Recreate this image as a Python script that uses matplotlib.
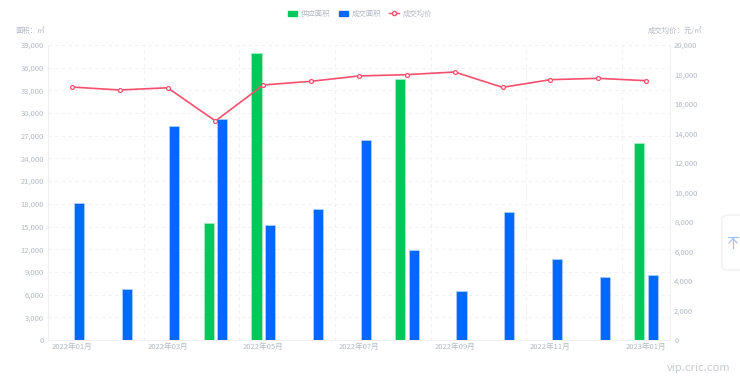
import matplotlib
matplotlib.use("Agg")
import matplotlib.pyplot as plt
import numpy as np
from matplotlib.patches import Patch, FancyBboxPatch
from matplotlib.lines import Line2D
from matplotlib.ticker import FuncFormatter

plt.rcParams['font.family'] = ['Noto Sans CJK SC', 'DejaVu Sans']

months = ["2022年01月", "2022年02月", "2022年03月", "2022年04月", "2022年05月", "2022年06月",
          "2022年07月", "2022年08月", "2022年09月", "2022年10月", "2022年11月", "2022年12月",
          "2023年01月"]
supply_area = [0, 0, 0, 15500, 38000, 0, 0, 34500, 0, 0, 0, 0, 26000]
deal_area = [18100, 6700, 28300, 29200, 15200, 17300, 26400, 11900, 6500, 16900, 10700, 8300, 8600]
avg_price = [17150, 16950, 17100, 14850, 17290, 17540, 17900, 17990, 18170, 17130, 17650, 17740, 17580]

left_ticks = list(range(0, 39001, 3000))
right_ticks = list(range(0, 20001, 2000))

GREEN = "#00c85a"
BLUE = "#0068ff"
PINK = "#f7506e"
TXT = "#b3b8c4"
GRID = "#f0f1f4"
AXL = "#eef0f4"

W, H = 740, 381
fig = plt.figure(figsize=(W / 100, H / 100), dpi=100)
ax = fig.add_axes([48 / W, (H - 340) / H, (670 - 48) / W, 295 / H])
ax2 = ax.twinx()

x = np.arange(len(months))
bw = 0.21
off = 0.142
ax.bar(x - off, supply_area, width=bw, color=GREEN, zorder=3, edgecolor="#a6eec4", linewidth=0.5)
ax.bar(x + off, deal_area, width=bw, color=BLUE, zorder=3, edgecolor="#b4d2ff", linewidth=0.5)

ax.set_xlim(-0.5, len(months) - 0.5)
ax.set_ylim(0, 39000)
ax.set_yticks(left_ticks)
ax.yaxis.set_major_formatter(FuncFormatter(lambda v, p: f"{int(v):,}"))
ax.set_xticks(x[::2])
ax.set_xticklabels(months[::2])
ax.minorticks_off()

for v in left_ticks[1:]:
    ax.axhline(v, color=GRID, lw=0.8, ls=(0, (3, 3)), zorder=1)
for b in np.arange(-0.5, len(months), 2)[1:]:
    ax.axvline(b, color=GRID, lw=0.8, ls=(0, (3, 3)), zorder=1)

ax2.plot(x, avg_price, color=PINK, lw=1.2, marker='o', ms=2.8, mfc='white', mec=PINK, mew=0.9, zorder=5)
ax2.set_ylim(0, 20000)
ax2.set_yticks(right_ticks)
ax2.yaxis.set_major_formatter(FuncFormatter(lambda v, p: f"{int(v):,}"))
ax2.minorticks_off()

for a in (ax, ax2):
    for s in a.spines.values():
        s.set_visible(False)
    a.tick_params(which='both', length=0, labelsize=5.5, labelcolor=TXT, pad=3)
ax.tick_params(axis='x', pad=2)
ax.spines['left'].set_visible(True)
ax.spines['left'].set_color(AXL)
ax.spines['bottom'].set_visible(True)
ax.spines['bottom'].set_color(AXL)
ax2.spines['right'].set_visible(True)
ax2.spines['right'].set_color(AXL)
ax.set_zorder(ax2.get_zorder() - 1)
ax2.patch.set_visible(False)

fig.text(16 / W, 1 - 31 / H, "面积：㎡", fontsize=5.3, color=TXT, va='center', ha='left')
fig.text(702 / W, 1 - 31 / H, "成交均价：元/㎡", fontsize=5.3, color=TXT, va='center', ha='right')

handles = [Patch(color=GREEN), Patch(color=BLUE),
           Line2D([0], [0], color=PINK, lw=1.0, marker='o', ms=3.0, mfc='white', mec=PINK, mew=1.0)]
labels = ["供应面积", "成交面积", "成交均价"]
fig.legend(handles, labels, loc='center', bbox_to_anchor=(360 / W, 1 - 14 / H), ncol=3, frameon=False,
           fontsize=5.3, labelcolor=TXT, handlelength=1.3, handleheight=0.7, handletextpad=0.5,
           columnspacing=1.1, borderpad=0)

fig.text(730 / W, 1 - 368 / H, "vip.cric.com", fontsize=8, color="#c6cad2", ha='right', va='center')

box = FancyBboxPatch((722 / W, 1 - 270 / H), 30 / W, 55 / H, boxstyle="round,pad=0,rounding_size=0.01",
                     transform=fig.transFigure, facecolor='white', edgecolor='#f0f2f5', lw=1.2)
fig.add_artist(box)
ic = '#9dbff7'
fig.add_artist(Line2D([728 / W, 738 / W], [1 - 237 / H, 1 - 237 / H], transform=fig.transFigure, color=ic, lw=0.8))
fig.add_artist(Line2D([733 / W, 733 / W], [1 - 238 / H, 1 - 248 / H], transform=fig.transFigure, color=ic, lw=0.8))
fig.add_artist(Line2D([729 / W, 733 / W, 737 / W], [1 - 243 / H, 1 - 238.5 / H, 1 - 243 / H], transform=fig.transFigure, color=ic, lw=0.8))

fig.savefig("out.png", dpi=100)
